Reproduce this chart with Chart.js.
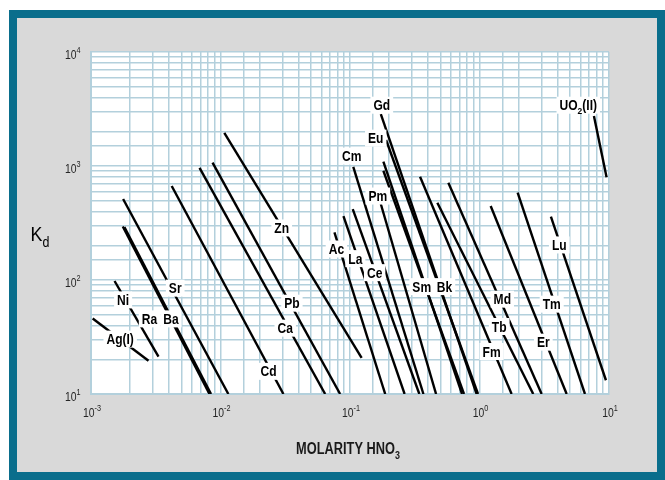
<!DOCTYPE html>
<html><head><meta charset="utf-8">
<script src="https://cdn.jsdelivr.net/npm/chart.js@4/dist/chart.umd.min.js"></script>
<style>
html,body{margin:0;padding:0;background:#fff;overflow:hidden;width:665px;height:480px;}
#frame{position:absolute;left:9px;top:10px;width:656px;height:470px;box-sizing:border-box;border:8px solid #0a6e8c;background:#d9d9d9;}
#c{position:absolute;left:0;top:0;}
</style></head><body>
<div id="frame"></div>
<canvas id="c" width="665" height="480"></canvas>
<script>
// ---- tick labels ----
const xTickValues = [0.001, 0.01, 0.1, 1, 10];
const xTickLabels = ['10^{-3}', '10^{-2}', '10^{-1}', '10^{0}', '10^{1}'];
const yTickValues = [10, 100, 1000, 10000];
const yTickLabels = ['10^{1}', '10^{2}', '10^{3}', '10^{4}'];

// ---- series (each element line: start and end point, Molarity HNO3 vs Kd) ----
const seriesNames   = ['Ag(I)','Ni','Ra','Ba','Sr','Cd','Ca','Pb','Zn','Ac','La','Ce','Cm','Pm','Gd','Eu','Sm','Sm-b','Fm','Tb','Md','Er','Tm','Lu','UO2(II)'];
const molarityStart = [0.00103,0.00152,0.00176,0.00181,0.00177,0.0042,0.00689,0.00868,0.0107,0.0758,0.089,0.105,0.106,0.173,0.173,0.19,0.181,0.181,0.3475,0.4725,0.5745,1.22,1.97,3.56,7.65];
const kdStart       = [46,98,295,291,513,667,964,1070,1950,262,364,419,984,464,2850,1690,1090,908,804,476,713,446,583,359,2750];
const molarityEnd   = [0.00278,0.00332,0.00822,0.00845,0.0115,0.0306,0.0643,0.0839,0.123,0.187,0.264,0.343,0.369,0.462,0.95,0.974,0.733,0.759,1.77,2.6,3.02,4.71,6.52,9.47,9.58];
const kdEnd         = [19.6,21.3,10,10,10,10,10,10,20.7,10,10,10,10,10,10,10,10,10,10,10,10,10,10,13.2,795];

// ---- element labels ----
const labelTexts    = ['Ag(I)','Ni','Ra','Ba','Sr','Cd','Ca','Pb','Zn','Ac','La','Ce','Cm','Pm','Gd','Eu','Sm','Bk','Md','Tb','Fm','Er','Tm','Lu','UO_{2}(II)'];
const labelMolarity = [0.00168,0.00177,0.00283,0.00414,0.00447,0.0235,0.0316,0.0356,0.0297,0.0785,0.110,0.155,0.103,0.164,0.176,0.158,0.358,0.537,1.50,1.42,1.24,3.11,3.61,4.13,5.79];
const labelKd       = [30.3,66.9,45.6,45.6,84.8,15.8,37.8,62.6,286,187,154,116,1221,545,3414,1755,87.5,87.5,67.9,39.1,23.6,28.5,61.4,203,3414];

const xTitle = 'MOLARITY HNO_{3}';
const yTitle = 'K_{d}';

const GRID = '#b3d0dc';

// choose a condensed look: real narrow font if installed, else horizontally squeezed Liberation Sans
const probe = document.createElement('canvas').getContext('2d');
function hasFont(name){
  probe.font = '20px monospace'; const a = probe.measureText('abcdefgWMilxyz10').width;
  probe.font = `20px "${name}", monospace`; const b = probe.measureText('abcdefgWMilxyz10').width;
  return Math.abs(a-b) > 0.5;
}
const NARROW = hasFont('Liberation Sans Narrow');
const FONT = NARROW ? '"Liberation Sans Narrow", "Liberation Sans", sans-serif' : '"Liberation Sans", Arial, sans-serif';
const SQ = NARROW ? 1/0.82 : 1;   // correction factor for squeeze

function parseRich(str){
  const parts=[]; const re=/([_^])\{([^}]*)\}/g; let last=0,m;
  while((m=re.exec(str))){ if(m.index>last) parts.push({t:str.slice(last,m.index),k:0}); parts.push({t:m[2],k:m[1]==='_'?-1:1}); last=re.lastIndex; }
  if(last<str.length) parts.push({t:str.slice(last),k:0});
  return parts;
}
function fontFor(p, size, weight){ return `${weight} ${p.k ? Math.round(size*0.7*10)/10 : size}px ${FONT}`; }
function richWidth(ctx, parts, size, weight){
  let w=0;
  parts.forEach(p=>{ ctx.font = fontFor(p,size,weight); p.w = ctx.measureText(p.t).width; w+=p.w; });
  return w;
}
// draws text; (x,cy) = anchor, cy = vertical centre of capitals; align 'center' or 'left'
function drawRich(ctx, str, x, cy, size, weight, color, sx, align){
  sx = Math.min(1, sx*SQ);
  const parts = parseRich(str);
  const w = richWidth(ctx, parts, size, weight);
  ctx.save();
  ctx.translate(x, cy);
  ctx.scale(sx, 1);
  let cx = align === 'left' ? 0 : -w/2;
  const base = size*0.36;
  ctx.fillStyle = color; ctx.textAlign='left'; ctx.textBaseline='alphabetic';
  parts.forEach(p=>{
    ctx.font = fontFor(p,size,weight);
    const dy = p.k === -1 ? size*0.3 : (p.k === 1 ? -size*0.42 : 0);
    ctx.fillText(p.t, cx, base + dy);
    cx += p.w;
  });
  ctx.restore();
  return w*sx;
}

const datasets = seriesNames.map((name,i)=>({
  label: name,
  data: [{x: molarityStart[i], y: kdStart[i]}, {x: molarityEnd[i], y: kdEnd[i]}],
  showLine: true,
  borderColor: '#000',
  borderWidth: 2.4,
  pointRadius: 0,
  fill: false,
  tension: 0
}));

const bgPlugin = {
  id: 'bg',
  beforeDraw(chart){
    const {ctx, chartArea:a} = chart;
    ctx.save(); ctx.fillStyle='#fff'; ctx.fillRect(a.left, a.top, a.right-a.left, a.bottom-a.top); ctx.restore();
  }
};
const textPlugin = {
  id: 'texts',
  afterDatasetsDraw(chart){
    const {ctx, scales:{x, y}} = chart;
    labelTexts.forEach((t,i)=>{
      const px = x.getPixelForValue(labelMolarity[i]);
      const py = y.getPixelForValue(labelKd[i]);
      const sx = Math.min(1, 0.86*SQ);
      const w = richWidth(ctx, parseRich(t), 14, 'bold') * sx;
      ctx.save();
      ctx.fillStyle = '#fff';
      ctx.fillRect(px - w/2 - 3, py - 8.5, w + 6, 17);
      ctx.restore();
      drawRich(ctx, t, px, py, 14, 'bold', '#000', 0.86, 'center');
    });
  },
  afterDraw(chart){
    const {ctx, chartArea:a, scales:{x, y}} = chart;
    // tick labels
    xTickValues.forEach((v,i)=>{
      drawRich(ctx, xTickLabels[i], x.getPixelForValue(v) + 1, 412, 13, 'normal', '#262626', 0.8, 'center');
    });
    yTickValues.forEach((v,i)=>{
      drawRich(ctx, yTickLabels[i], 65, y.getPixelForValue(v) + 2, 13, 'normal', '#262626', 0.8, 'left');
    });
    // axis titles
    drawRich(ctx, xTitle, (a.left+a.right)/2 - 2, 448, 16, 'bold', '#1a1a1a', 0.8, 'center');
    drawRich(ctx, yTitle, 40, 233, 21, 'normal', '#000', 0.85, 'center');
  }
};

new Chart(document.getElementById('c').getContext('2d'), {
  type: 'scatter',
  data: { datasets },
  plugins: [bgPlugin, textPlugin],
  options: {
    responsive: false,
    animation: false,
    events: [],
    layout: { padding: { left: 0, right: 56, top: 52, bottom: 0 } },
    plugins: { legend: { display: false }, tooltip: { enabled: false } },
    scales: {
      x: {
        type: 'logarithmic', min: xTickValues[0], max: xTickValues[xTickValues.length-1],
        afterFit(s){ s.height = 86; },
        grid: { color: GRID, lineWidth: 1.5, drawTicks: false },
        border: { display: true, color: GRID, width: 2 },
        ticks: { display: false, autoSkip: false }
      },
      y: {
        type: 'logarithmic', min: yTickValues[0], max: yTickValues[yTickValues.length-1],
        afterFit(s){ s.width = 91; },
        grid: { color: GRID, lineWidth: 1.5, drawTicks: false },
        border: { display: true, color: GRID, width: 2 },
        ticks: { display: false, autoSkip: false }
      }
    }
  }
});
</script></body></html>
